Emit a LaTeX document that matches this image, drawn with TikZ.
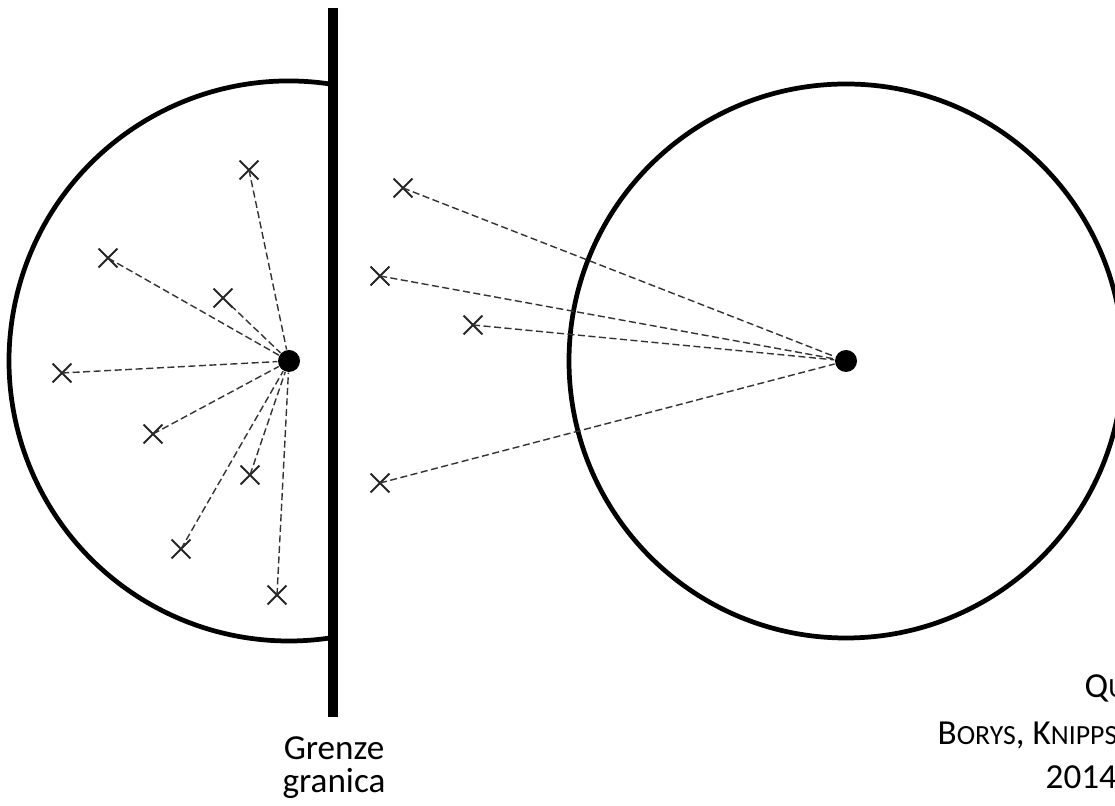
\documentclass[tikz,border=0pt]{standalone}
\usepackage{fontspec}
\setmainfont{Carlito}
\usetikzlibrary{shapes.misc}

% Kapitaelchen (nachgebaut)
\newcommand{\kapit}[1]{{\fontsize{7.9}{9}\selectfont\MakeUppercase{#1}}}

\begin{document}
\begin{tikzpicture}[
        kreuz/.style={cross out, draw=black!85, line width=0.55pt, minimum size=0.17cm, inner sep=0pt},
        zentrum/.style={circle, fill=black, minimum size=0.22cm, inner sep=0pt},
        strahl/.style={black!80, line width=0.4pt, dash pattern=on 2pt off 1pt},
        kreis/.style={line width=1.35pt},
        quelle/.style={anchor=base west, inner sep=0pt, font=\fontsize{10}{12}\selectfont}
    ]
        \useasboundingbox (0,0) rectangle (11.15,8.06);
        \clip (0,0) rectangle (11.15,8.06);

        % Mittelpunkte
        \node[zentrum] (mitteL) at (2.89,4.45) {};
        \node[zentrum] (mitteR) at (8.46,4.45) {};

        % Kreise
        \draw[kreis] (mitteL.center) ++(81:2.8) arc[start angle=81, end angle=279, radius=2.8];
        \draw[kreis] (mitteR.center) circle (2.77);

        % Grenze
        \draw[line width=2.85pt] (3.33,7.98) -- (3.33,0.89);

        % Punkte links
        \foreach \n/\x/\y in {1/2.49/6.36, 2/1.08/5.48, 3/2.23/5.08, 4/0.62/4.33,
                              5/1.53/3.72, 6/2.50/3.31, 7/1.81/2.57, 8/2.77/2.11} {
            \node[kreuz] (l\n) at (\x,\y) {};
            \draw[strahl] (l\n.center) -- (mitteL);
        }

        % Punkte jenseits der Grenze
        \foreach \n/\x/\y in {1/4.03/6.18, 2/3.80/5.30, 3/4.73/4.81, 4/3.80/3.23} {
            \node[kreuz] (r\n) at (\x,\y) {};
            \draw[strahl] (r\n.center) -- (mitteR);
        }

        % Beschriftung
        \node[anchor=base, inner sep=0pt, font=\fontsize{10}{12}\selectfont] (grenze) at (3.34,0.46) {Grenze};
        \node[anchor=base, inner sep=0pt, font=\fontsize{10}{12}\selectfont] (granica) at (3.34,0.13) {granica};

        % Quelle
        \node[quelle] (q1) at (10.84,1.08) {Q\kapit{u}};
        \node[quelle] (q2) at (9.37,0.61) {B\kapit{orys}, K\kapit{nipps}};
        \node[quelle] (q3) at (10.45,0.18) {2014};
    \end{tikzpicture}
\end{document}
